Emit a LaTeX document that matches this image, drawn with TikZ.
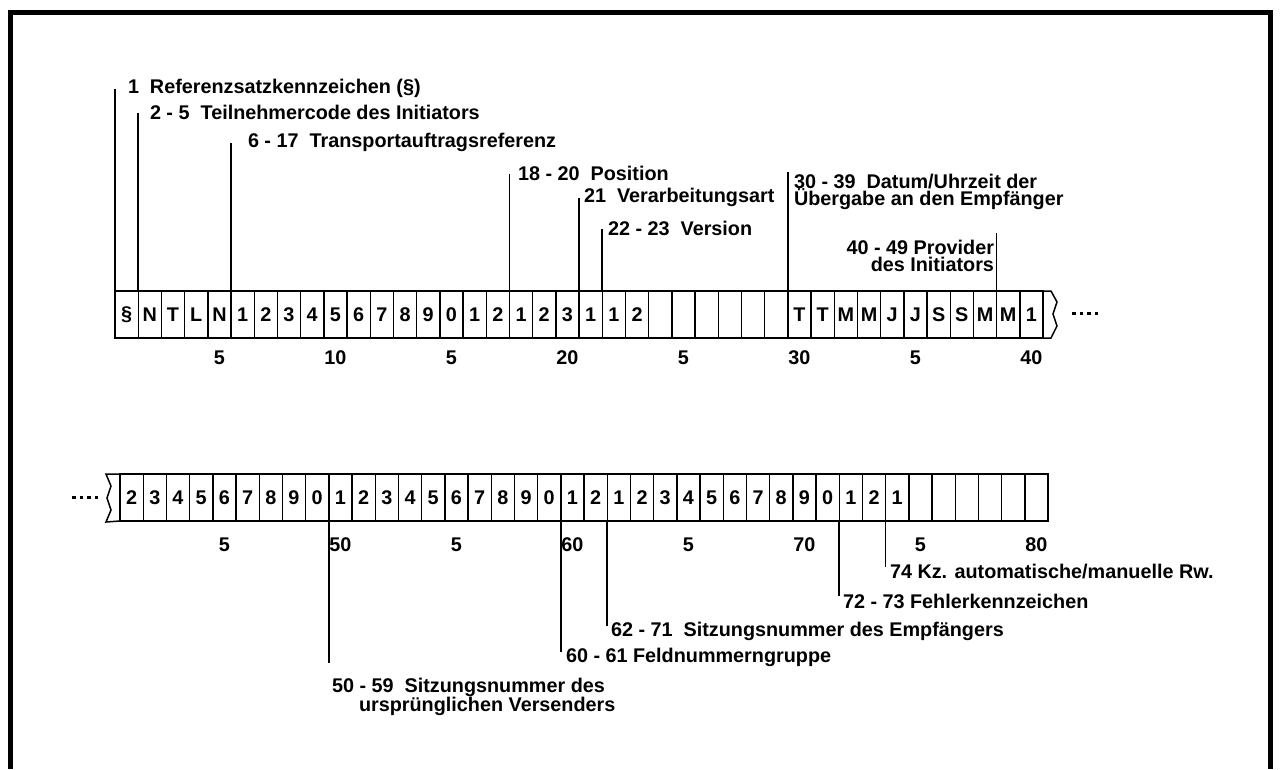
\documentclass[tikz,border=0pt]{standalone}
\usepackage{fontspec}
\setmainfont{Liberation Sans}
\begin{document}
\begin{tikzpicture}[x=1pt,y=-1pt,
  every node/.style={font=\fontsize{19.8}{17.5}\selectfont\bfseries, inner sep=0pt, outer sep=0pt},
  cell/.style={draw, line width=1.4pt, minimum width=23.2pt, minimum height=47pt, anchor=north west},
  lead/.style={line width=1.5pt},
  lbl/.style={anchor=west, align=left},
  frame/.style={line width=5pt},
  dot/.style={fill=black}
]
\useasboundingbox (0,0) rectangle (1281,769);
% frame
\draw[frame] (10.5,769) -- (10.5,12.5) -- (1270.5,12.5) -- (1270.5,769);

% top row cells 1..40
\foreach \t [count=\i] in {§,N,T,L,N,1,2,3,4,5,6,7,8,9,0,1,2,1,2,3,1,1,2,{},{},{},{},{},{},T,T,M,M,J,J,S,S,M,M,1}
  \node[cell] (c\i) at ({115+(\i-1)*23.2},291) {\t};
% bottom row cells 41..80
\foreach \t [count=\i from 41] in {2,3,4,5,6,7,8,9,0,1,2,3,4,5,6,7,8,9,0,1,2,1,2,3,4,5,6,7,8,9,0,1,2,1,{},{},{},{},{},{}}
  \node[cell] (c\i) at ({120+(\i-41)*23.2},474) {\t};

% torn ends
\draw[lead, line join=miter] (c40.north east) -- ++(8,0) -- ++(6,11) -- ++(-4,12) -- ++(4,12) -- ++(-6,12) -- (c40.south east);
\draw[lead, line join=miter] (c41.north west) -- ++(-14,0) -- ++(5,12) -- ++(-4,12) -- ++(4,12) -- ++(-5,12) -- (c41.south west);

% dots
\foreach \k in {0,1,2,3} {
  \fill[dot] ({1072+\k*7.5},311.5) rectangle ++(3.5,3.5);
  \fill[dot] ({72+\k*7.5},495.5) rectangle ++(3.5,3.5);
}

% scale numbers
\foreach \n/\t in {5/5,10/10,15/5,20/20,25/5,30/30,35/5,40/40}
  \node (n\n) at ({115+(\n-0.5)*23.2},358) {\t};
\foreach \n/\t in {45/5,50/50,55/5,60/60,65/5,70/70,75/5,80/80}
  \node (n\n) at ({120+(\n-40.5)*23.2},545) {\t};

% top labels
\node[lbl] (l1) at (128,88) {1\ \ Referenzsatzkennzeichen (§)};
\node[lbl] (l2) at (150,112) {2 - 5\ \ Teilnehmercode des Initiators};
\node[lbl] (l3) at (248,142) {6 - 17\ \ Transportauftragsreferenz};
\node[lbl] (l4) at (518,173) {18 - 20\ \ Position};
\node[lbl] (l5) at (584,197) {21\ \ Verarbeitungsart};
\node[lbl] (l6) at (608,228) {22 - 23\ \ Version};
\node[lbl, anchor=north west] (l7) at (794,174) {30 - 39\ \ Datum/Uhrzeit der\\Übergabe an den Empfänger};
\node[align=right, anchor=north east] (l8) at (994,240) {40 - 49 Provider\\des Initiators};

\draw[lead] (c1.north west) -- ([yshift=-1pt]c1.north west |- l1.west);
\draw[lead] (c2.north west) -- ([yshift=-1pt]c2.north west |- l2.west);
\draw[lead] (c6.north west) -- ([yshift=-1pt]c6.north west |- l3.west);
\draw[lead] (c18.north west) -- ([yshift=-1pt]c18.north west |- l4.west);
\draw[lead] (c21.north west) -- ([yshift=-1pt]c21.north west |- l5.west);
\draw[lead] (c22.north west) -- ([yshift=-1pt]c22.north west |- l6.west);
\draw[lead] (c30.north west) -- ([yshift=2pt]c30.north west |- l7.north);
\draw[lead] (c39.north west) -- ([yshift=7pt]c39.north west |- l8.north);

% bottom labels
\node[lbl] (b74) at (890,572) {74 Kz. automatische/manuelle Rw.};
\node[lbl] (b72) at (843,601) {72 - 73 Fehlerkennzeichen};
\node[lbl] (b62) at (611,631) {62 - 71\ \ Sitzungsnummer des Empfängers};
\node[lbl] (b60) at (566,657) {60 - 61 Feldnummerngruppe};
\node[lbl, anchor=north west] (b50) at (332,678) {50 - 59\ \ Sitzungsnummer des\\\hspace*{27pt}ursprünglichen Versenders};

\draw[lead] (c74.south west) -- ([yshift=5pt]c74.south west |- b74.west);
\draw[lead] (c72.south west) -- ([yshift=5pt]c72.south west |- b72.west);
\draw[lead] (c62.south west) -- ([yshift=5pt]c62.south west |- b62.west);
\draw[lead] (c60.south west) -- ([yshift=5pt]c60.south west |- b60.west);
\draw[lead] (c50.south west) -- ([yshift=15pt]c50.south west |- b50.north);
\end{tikzpicture}
\end{document}
